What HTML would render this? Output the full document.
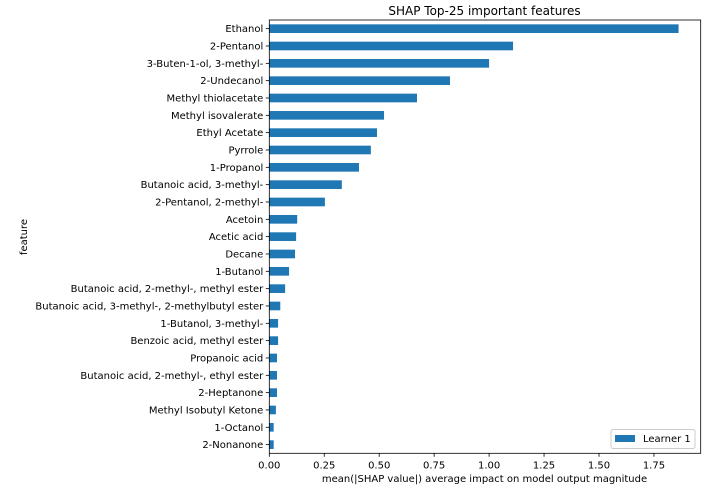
<!DOCTYPE html>
<html><head><meta charset="utf-8"><style>
body{margin:0;background:#fff;}
svg{display:block;font-family:"DejaVu Sans","Liberation Sans",sans-serif;}
</style></head><body>
<svg id="chart" width="720" height="504">
<text x="484.5" y="15" font-size="12" text-anchor="middle" fill="#000">SHAP Top-25 important features</text>
<text x="484.5" y="482" font-size="10" text-anchor="middle" fill="#000">mean(|SHAP value|) average impact on model output magnitude</text>
<text x="27" y="237" font-size="10" text-anchor="middle" transform="rotate(-90 27 237)">feature</text>
<g id="bars"></g><g id="yt"></g><g id="xt"></g>
<rect x="269.3" y="20" width="431.4" height="433.3" fill="none" stroke="#000" stroke-width="0.8"/>
<g>
<rect x="611" y="429.5" width="84" height="19" fill="#fff" stroke="#ccc" rx="2"/>
<rect x="615" y="435" width="20" height="7" fill="#1f77b4"/>
<text x="643" y="442" font-size="10">Learner 1</text>
</g>
</svg>
<script>
const categories=["Ethanol","2-Pentanol","3-Buten-1-ol, 3-methyl-","2-Undecanol","Methyl thiolacetate","Methyl isovalerate","Ethyl Acetate","Pyrrole","1-Propanol","Butanoic acid, 3-methyl-","2-Pentanol, 2-methyl-","Acetoin","Acetic acid","Decane","1-Butanol","Butanoic acid, 2-methyl-, methyl ester","Butanoic acid, 3-methyl-, 2-methylbutyl ester","1-Butanol, 3-methyl-","Benzoic acid, methyl ester","Propanoic acid","Butanoic acid, 2-methyl-, ethyl ester","2-Heptanone","Methyl Isobutyl Ketone","1-Octanol","2-Nonanone"];
const values=[1.862,1.109,1.0,0.822,0.672,0.522,0.49,0.462,0.408,0.33,0.253,0.127,0.122,0.117,0.09,0.072,0.05,0.04,0.04,0.035,0.035,0.035,0.03,0.02,0.02];
const xTicks=[0,0.25,0.5,0.75,1.0,1.25,1.5,1.75];
const xTickLabels=["0.00","0.25","0.50","0.75","1.00","1.25","1.50","1.75"];
const NS="http://www.w3.org/2000/svg";
const x0=269.3,pxPer=219.8,plotTop=20,plotH=433.3;
const xs=v=>x0+v*pxPer;
const step=plotH/categories.length;
const yc=i=>plotTop+step*(i+0.5);
function mk(t,a){const e=document.createElementNS(NS,t);for(const k in a)e.setAttribute(k,a[k]);return e;}
const barsG=document.getElementById('bars'),ytG=document.getElementById('yt'),xtG=document.getElementById('xt');
categories.forEach((c,i)=>{
  const r=mk('rect',{x:xs(0),y:yc(i)-step*0.25,width:xs(values[i])-xs(0),height:step*0.5,fill:'#1f77b4'});
  
  
  barsG.appendChild(r);
  const l=mk('line',{x1:x0-3.5,x2:x0,y1:yc(i),y2:yc(i),stroke:'#000','stroke-width':0.8});
  
  
  ytG.appendChild(l);
  const t=mk('text',{x:x0-6,y:yc(i)+3.5,'font-size':10,'text-anchor':'end'});
  t.textContent=c;
  
  
  ytG.appendChild(t);
});
xTicks.forEach((v,i)=>{
  const l=mk('line',{x1:xs(v),x2:xs(v),y1:plotTop+plotH,y2:plotTop+plotH+3.5,stroke:'#000','stroke-width':0.8});
  
  
  xtG.appendChild(l);
  const t=mk('text',{x:xs(v),y:plotTop+plotH+15,'font-size':10,'text-anchor':'middle'});
  t.textContent=xTickLabels[i];
  
  
  xtG.appendChild(t);
});
</script>
</body></html>
